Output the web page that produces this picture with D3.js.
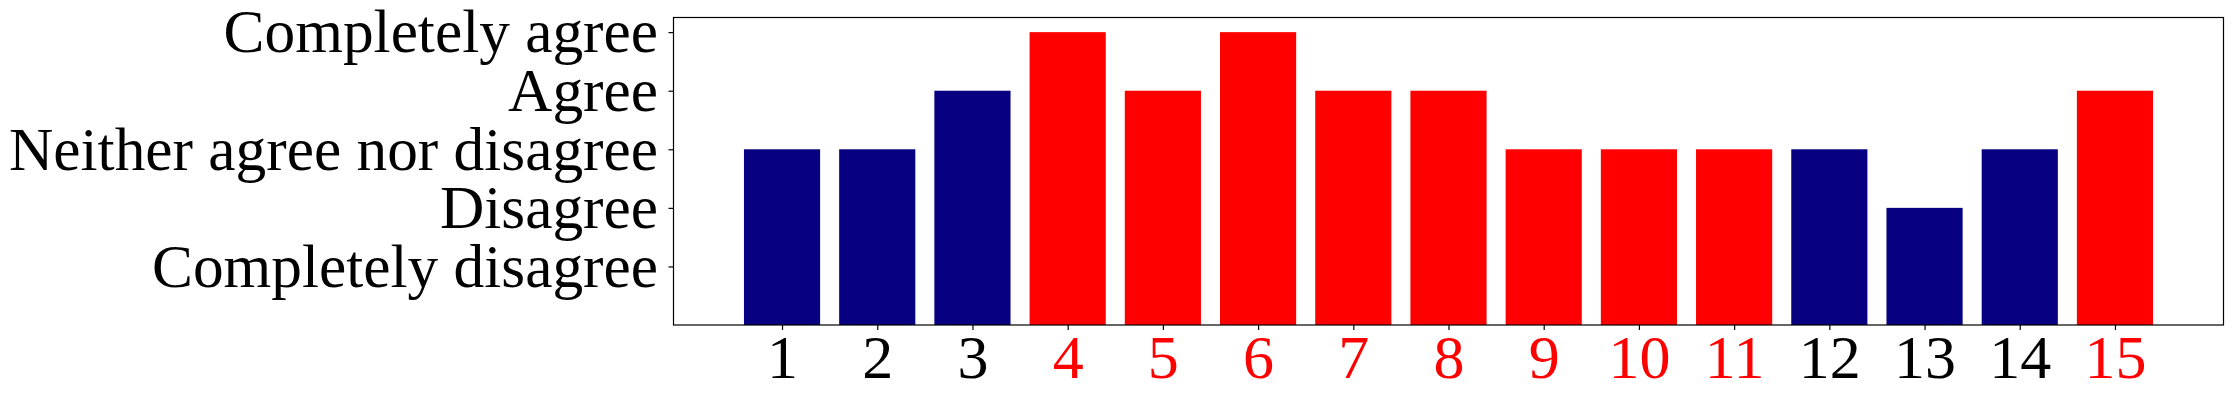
<!DOCTYPE html>
<html>
<head>
<meta charset="utf-8">
<script src="https://cdn.jsdelivr.net/npm/d3@7"></script>
<style>
  html, body { margin: 0; padding: 0; background: #fff; }
  svg { display: block; }
</style>
</head>
<body>
<svg id="chart" width="2233" height="400"></svg>
<script>
// Data
const categories = ["1","2","3","4","5","6","7","8","9","10","11","12","13","14","15"];
const values = [3, 3, 4, 5, 4, 5, 4, 4, 3, 3, 3, 3, 2, 3, 4];
const groups = ["blue","blue","blue","red","red","red","red","red","red","red","red","blue","blue","blue","red"];
const yTickValues = [1, 2, 3, 4, 5];
const yTickLabels = ["Completely disagree", "Disagree", "Neither agree nor disagree", "Agree", "Completely agree"];

const colorMap = { blue: "#070081", red: "#ff0000" };
const labelColor = { blue: "#000000", red: "#ff0000" };
const FONT = '"Liberation Serif"';

const margin = { left: 673.5, right: 2223.5, top: 17.5, bottom: 325 };
const svg = d3.select("#chart");

const x = d3.scaleLinear().domain([-0.14, 16.14]).range([margin.left, margin.right]);
const y = d3.scaleLinear().domain([0, 5.25]).range([margin.bottom, margin.top]);
const barW = x(0.8) - x(0);

svg.append("g").selectAll("rect").data(values).join("rect")
  .attr("x", (d, i) => x(i + 1) - barW / 2)
  .attr("width", barW)
  .attr("y", d => y(d))
  .attr("height", d => y(0) - y(d))
  .attr("fill", (d, i) => colorMap[groups[i]]);

// Frame
svg.append("rect")
  .attr("x", margin.left).attr("y", margin.top)
  .attr("width", margin.right - margin.left).attr("height", margin.bottom - margin.top)
  .attr("fill", "none").attr("stroke", "#000").attr("stroke-width", 1.2);

// X axis
const xAxis = d3.axisBottom(x)
  .tickValues(categories.map((c, i) => i + 1))
  .tickFormat((d, i) => categories[i])
  .tickSize(5).tickPadding(4);
const gx = svg.append("g").attr("transform", `translate(0,${margin.bottom})`).call(xAxis)
  .attr("font-family", null).attr("font-size", null);
gx.select(".domain").remove();
gx.selectAll(".tick line").attr("stroke", "#000").attr("stroke-width", 1.2);
gx.selectAll(".tick text")
  .style("font-family", FONT).style("font-size", "62px")
  .attr("fill", (d, i) => labelColor[groups[i]]);

// Y axis
const yAxis = d3.axisLeft(y)
  .tickValues(yTickValues)
  .tickFormat((d, i) => yTickLabels[i])
  .tickSize(5).tickPadding(10.5);
const gy = svg.append("g").attr("transform", `translate(${margin.left},0)`).call(yAxis)
  .attr("font-family", null).attr("font-size", null);
gy.select(".domain").remove();
gy.selectAll(".tick line").attr("stroke", "#000").attr("stroke-width", 1.2);
const yTexts = gy.selectAll(".tick text")
  .style("font-family", FONT).style("font-size", "62px")
  .attr("fill", "#000");

// Widen glyphs slightly to mimic the reference's wider serif face
const ref = yTexts.filter((d, i) => yTickLabels[i] === "Neither agree nor disagree").node();
const factor = 649 / ref.getComputedTextLength();
yTexts.each(function () {
  const w = this.getComputedTextLength();
  d3.select(this).attr("textLength", w * factor).attr("lengthAdjust", "spacingAndGlyphs");
});
</script>
</body>
</html>
